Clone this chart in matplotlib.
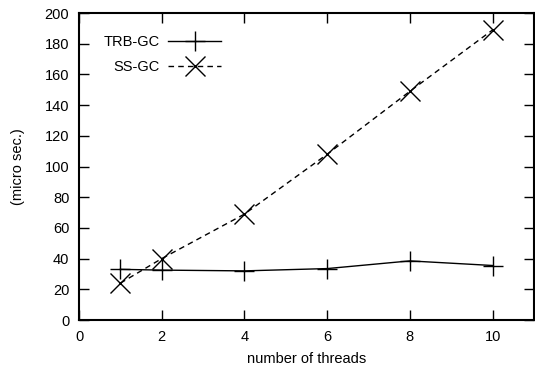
import numpy as np
import matplotlib.pyplot as plt

plt.rcParams['font.family'] = ['Liberation Sans', 'DejaVu Sans']

threads = [1, 2, 4, 6, 8, 10]
trb_gc = [33, 32.5, 32, 33.5, 38.5, 35.5]
ss_gc = [24, 40, 69, 108, 149, 189]

fig = plt.figure(figsize=(5.35, 3.7), dpi=100)
ax = fig.add_axes([79/535, 1 - 320/370, (534-79)/535, (320-13)/370])

ax.plot(threads, trb_gc, color='black', lw=1.0, marker='+', ms=14.5, mew=1.0, label='TRB-GC')
ax.plot(threads, ss_gc, color='black', lw=1.0, ls=(0, (4, 3)), marker='x', ms=14, mew=1.0, label='SS-GC')

ax.set_xlim(0, 11)
ax.set_ylim(0, 200)
ax.set_xticks(np.arange(0, 11, 2))
ax.set_yticks(np.arange(0, 201, 20))
ax.tick_params(direction='in', length=7, width=1, labelsize=10.5, top=True, right=True, pad=7)
for s in ax.spines.values():
    s.set_linewidth(1.5)
ax.set_xlabel('number of threads', fontsize=10.5, labelpad=6)
ax.set_ylabel('(micro sec.)', fontsize=10.5, labelpad=14)

ax.legend(loc='upper left', frameon=False, markerfirst=False, fontsize=10.5,
          handlelength=3.6, bbox_to_anchor=(0.025, 0.97), labelspacing=0.75, handletextpad=0.6)

fig.savefig('out.png', dpi=100)
